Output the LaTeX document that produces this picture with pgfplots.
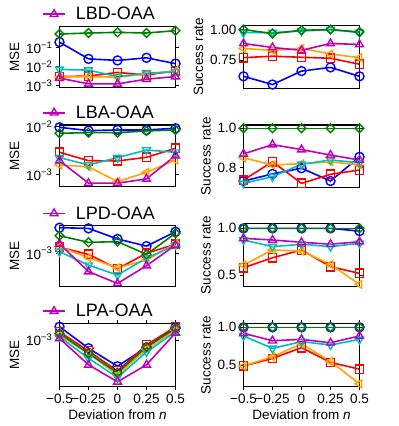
\documentclass[border=0pt]{standalone}
\usepackage{fontspec}
\setmainfont{Liberation Sans}
\usepackage{pgfplots}
\usepackage{pgfplotstable}
\pgfplotsset{compat=1.18}

\definecolor{colb}{rgb}{0,0,1}
\definecolor{colg}{rgb}{0,0.5,0}
\definecolor{colr}{rgb}{1,0,0}
\definecolor{colo}{rgb}{1,0.647,0}
\definecolor{colc}{rgb}{0,0.75,0.75}
\definecolor{colm}{rgb}{0.75,0,0.75}

\newcommand{\tfont}{\fontsize{13.5}{15}\selectfont}

% MSE and success rate per deviation, columns: blue green red orange cyan magenta
\pgfplotstableread{
x b g r o c m
-0.5 0.20 0.54 0.0030 0.0028 0.0072 0.0025
-0.25 0.026 0.61 0.0032 0.0030 0.0066 0.00123
0 0.0215 0.66 0.0050 0.0028 0.0030 0.00123
0.25 0.0296 0.61 0.0036 0.0041 0.0045 0.0022
0.5 0.0146 0.81 0.0061 0.0061 0.0054 0.0030
}\lbdmse
\pgfplotstableread{
x b g r o c m
-0.5 0.617 1.0 0.77 0.845 0.975 0.886
-0.25 0.55 0.967 0.782 0.83 0.975 0.853
0 0.66 0.994 0.773 0.845 0.988 0.83
0.25 0.69 1.0 0.765 0.80 1.0 0.886
0.5 0.617 0.98 0.716 0.77 0.975 0.878
}\lbdsr
\pgfplotstableread{
x b g r o c m
-0.5 0.0096 0.00721 0.0029 0.00158 0.00224 0.00194
-0.25 0.00818 0.00743 0.00194 0.00145 0.00158 0.00066
0 0.00845 0.00743 0.00191 0.00071 0.00224 0.00066
0.25 0.00845 0.00806 0.00228 0.00111 0.00323 0.00081
0.5 0.00917 0.00845 0.00351 0.0020 0.0029 0.00247
}\lbamse
\pgfplotstableread{
x b g r o c m
-0.5 0.732 1.0 0.737 0.85 0.72 0.87
-0.25 0.768 1.0 0.83 0.814 0.754 0.917
0 0.797 1.0 0.72 0.82 0.817 0.892
0.25 0.732 1.0 0.766 0.83 0.839 0.864
0.5 0.855 1.0 0.788 0.814 0.825 0.839
}\lbasr
\pgfplotstableread{
x b g r o c m
-0.5 2.09e-3 1.66e-3 1.19e-3 1.21e-3 1.05e-3 1.31e-3
-0.25 2.05e-3 1.37e-3 0.97e-3 0.88e-3 0.71e-3 0.59e-3
0 1.51e-3 1.40e-3 0.64e-3 0.66e-3 0.535e-3 0.42e-3
0.25 1.23e-3 0.97e-3 1.0e-3 0.82e-3 0.87e-3 0.70e-3
0.5 1.86e-3 1.78e-3 1.30e-3 1.33e-3 1.27e-3 1.27e-3
}\lpdmse
\pgfplotstableread{
x b g r o c m
-0.5 1.0 1.0 0.578 0.607 0.875 0.893
-0.25 1.0 1.0 0.685 0.768 0.804 0.875
0 1.0 1.0 0.768 0.757 0.83 0.851
0.25 1.0 1.0 0.589 0.614 0.804 0.83
0.5 0.97 1.0 0.518 0.40 0.84 0.857
}\lpdsr
\pgfplotstableread{
x b g r o c m
-0.5 1.47e-3 1.21e-3 1.27e-3 1.15e-3 1.10e-3 1.05e-3
-0.25 0.79e-3 0.68e-3 0.73e-3 0.68e-3 0.59e-3 0.49e-3
0 0.47e-3 0.39e-3 0.41e-3 0.365e-3 0.34e-3 0.30e-3
0.25 0.81e-3 0.82e-3 0.87e-3 0.77e-3 0.71e-3 0.49e-3
0.5 1.44e-3 1.40e-3 1.47e-3 1.33e-3 1.27e-3 1.23e-3
}\lpamse
\pgfplotstableread{
x b g r o c m
-0.5 1.0 1.0 0.487 0.487 0.885 0.92
-0.25 1.0 1.0 0.587 0.61 0.72 0.822
0 1.0 1.0 0.73 0.78 0.81 0.84
0.25 1.0 1.0 0.534 0.547 0.765 0.795
0.5 1.0 1.0 0.445 0.25 0.84 0.885
}\lpasr

\pgfplotsset{
  legend image code/.code={%
    \draw[mark repeat=2, mark phase=2, #1] plot coordinates {(0pt,0pt) (11pt,0pt) (22pt,0pt)};},
  panel/.style={
    scale only axis, width=116pt, anchor=south west,
    xmin=-0.5, xmax=0.5, xtick=\empty,
    tick align=outside, major tick length=3.5pt,
    tick style={black, line width=0.8pt},
    axis line style={line width=1.1pt},
    tick label style={font=\tfont},
    label style={font=\tfont},
    yminorticks=false, xminorticks=false,
    legend style={draw=none, fill=none, at={(-0.15,1)}, anchor=south west,
      yshift=3pt, font=\fontsize{18}{20}\selectfont, column sep=8pt,
      inner sep=0pt},
  },
  bottom/.style={xtick={-0.5,-0.25,0,0.25,0.5},
    xticklabels={−0.5,−0.25,0,0.25,0.5}, xlabel={Deviation from \textit{n}}},
}

\newcommand{\serb}{color=colb, line width=1.6pt, mark size=4.5pt, mark=o, mark options={solid, fill=none, line width=1.4pt}}
\newcommand{\serg}{color=colg, line width=1.6pt, mark size=3.1pt, mark=square, mark options={solid, fill=none, line width=1.4pt, rotate=45}}
\newcommand{\serr}{color=colr, line width=1.6pt, mark size=4.2pt, mark=square, mark options={solid, fill=none, line width=1.4pt}}
\newcommand{\sero}{color=colo, line width=1.6pt, mark size=4.5pt, mark=triangle, mark options={solid, fill=none, line width=1.4pt, rotate=90}}
\newcommand{\serc}{color=colc, line width=1.6pt, mark size=4.5pt, mark=triangle, mark options={solid, fill=none, line width=1.4pt, rotate=180}}
\newcommand{\serm}{color=colm, line width=1.6pt, mark size=4.5pt, mark=triangle, mark options={solid, fill=none, line width=1.4pt}}

\newcommand{\sixplots}[1]{%
  \expandafter\addplot\expandafter[\serb, forget plot] table[x=x, y=b] {#1};
  \expandafter\addplot\expandafter[\serr, forget plot] table[x=x, y=r] {#1};
  \expandafter\addplot\expandafter[\sero, forget plot] table[x=x, y=o] {#1};
  \expandafter\addplot\expandafter[\serc, forget plot] table[x=x, y=c] {#1};
  \expandafter\addplot\expandafter[\serg, forget plot] table[x=x, y=g] {#1};
  \expandafter\addplot\expandafter[\serm] table[x=x, y=m] {#1};
}

\begin{document}
\begin{tikzpicture}
\path[use as bounding box] (0,0) rectangle (399pt,426pt);

% row 1
\begin{axis}[panel, ymode=log, height=61pt, ylabel={MSE}, at={(59.5pt,338.5pt)}, ymin=7.943e-4, ymax=1.349,
  ytick={1e-3,1e-2,1e-1}, yticklabels={10\textsuperscript{−3},10\textsuperscript{−2},10\textsuperscript{−1}}]
\sixplots{\lbdmse}
\addlegendentry{LBD-OAA}
\end{axis}
\begin{axis}[panel, height=63pt, ylabel={Success rate}, at={(243.5pt,337.7pt)}, ymin=0.519, ymax=1.035,
  ytick={0.75,1.0}, yticklabels={0.75,1.00}]
\sixplots{\lbdsr}
\end{axis}

% row 2
\begin{axis}[panel, ymode=log, height=61.7pt, ylabel={MSE}, at={(59.5pt,239.3pt)}, ymin=5.57e-4, ymax=1.0715e-2,
  ytick={1e-3,1e-2}, yticklabels={10\textsuperscript{−3},10\textsuperscript{−2}}]
\sixplots{\lbamse}
\addlegendentry{LBA-OAA}
\end{axis}
\begin{axis}[panel, height=62.7pt, ylabel={Success rate}, at={(243.5pt,238.3pt)}, ymin=0.698, ymax=1.017,
  ytick={0.8,1.0}, yticklabels={0.8,1.0}]
\sixplots{\lbasr}
\end{axis}

% row 3
\begin{axis}[panel, ymode=log, height=61pt, ylabel={MSE}, at={(59.5pt,139.3pt)}, ymin=3.824e-4, ymax=2.213e-3,
  ytick={1e-3}, yticklabels={10\textsuperscript{−3}}]
\sixplots{\lpdmse}
\addlegendentry{LPD-OAA}
\end{axis}
\begin{axis}[panel, height=63.4pt, ylabel={Success rate}, at={(243.5pt,139.3pt)}, ymin=0.375, ymax=1.054,
  ytick={0.5,1.0}, yticklabels={0.5,1.0}]
\sixplots{\lpdsr}
\end{axis}

% row 4
\begin{axis}[panel, bottom, ymode=log, height=63.4pt, ylabel={MSE}, at={(59.5pt,39.3pt)}, ymin=2.606e-4, ymax=1.622e-3,
  ytick={1e-3}, yticklabels={10\textsuperscript{−3}}]
\sixplots{\lpamse}
\addlegendentry{LPA-OAA}
\end{axis}
\begin{axis}[panel, bottom, height=63.4pt, ylabel={Success rate}, at={(243.5pt,39.3pt)}, ymin=0.212, ymax=1.053,
  ytick={0.5,1.0}, yticklabels={0.5,1.0}]
\sixplots{\lpasr}
\end{axis}
\end{tikzpicture}
\end{document}
